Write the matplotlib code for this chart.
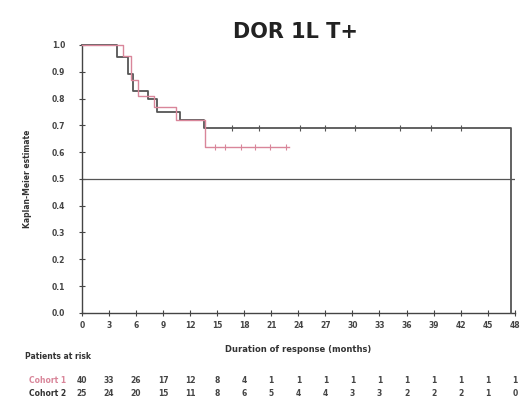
import matplotlib
matplotlib.use("Agg")
import matplotlib.pyplot as plt
from matplotlib.transforms import blended_transform_factory

# KM steps (months, survival)
dark_t = [0, 3.9, 5.1, 5.7, 7.3, 8.3, 10.9, 13.5, 47.6, 47.6]
dark_s = [1.0, 0.955, 0.89, 0.83, 0.80, 0.75, 0.72, 0.69, 0.69, 0.0]
dark_cens = [16.7, 19.6, 24.2, 27.0, 30.3, 35.3, 38.7, 42.0]

pink_t = [0, 4.6, 5.4, 6.2, 8.0, 10.4, 13.6, 23.0]
pink_s = [1.0, 0.96, 0.87, 0.81, 0.77, 0.72, 0.62, 0.62]
pink_cens = [14.8, 15.9, 17.6, 19.2, 20.9, 22.6]

xticks = list(range(0, 49, 3))
yticks = [0.0, 0.1, 0.2, 0.3, 0.4, 0.5, 0.6, 0.7, 0.8, 0.9, 1.0]

risk1 = [40, 33, 26, 17, 12, 8, 4, 1, 1, 1, 1, 1, 1, 1, 1, 1, 1]
risk2 = [25, 24, 20, 15, 11, 8, 6, 5, 4, 4, 3, 3, 2, 2, 2, 1, 0]

dark_col = "#555555"
pink_col = "#d9869a"

fig = plt.figure(figsize=(5.28, 3.98), dpi=100)
ax = fig.add_axes([0.155, 0.214, 0.82, 0.673])

ax.step(dark_t, dark_s, where="post", color=dark_col, lw=1.3, clip_on=False, zorder=3)
ax.step(pink_t, pink_s, where="post", color=pink_col, lw=1.0, clip_on=False, zorder=4)

# censor ticks
def surv_at(ts, ss, x):
    v = ss[0]
    for t, s in zip(ts, ss):
        if t <= x:
            v = s
    return v

ax.plot(dark_cens, [surv_at(dark_t[:-1], dark_s[:-1], c) for c in dark_cens],
        ls="none", marker="|", ms=4, mew=0.8, color=dark_col)
ax.plot(pink_cens, [surv_at(pink_t, pink_s, c) for c in pink_cens],
        ls="none", marker="|", ms=4, mew=0.8, color=pink_col)

ax.axhline(0.5, color="#555555", lw=0.9)

ax.set_xlim(0, 48)
ax.set_ylim(0, 1.0)
ax.set_xticks(xticks)
ax.set_yticks(yticks)
ax.set_xticklabels([str(x) for x in xticks], fontsize=5.5, color="#444444", fontweight="bold")
ax.set_yticklabels(["%.1f" % y for y in yticks], fontsize=5.5, color="#444444", fontweight="bold")
ax.tick_params(direction="inout", length=4, width=0.8, colors="#444444")
ax.tick_params(axis="x", pad=4)
ax.tick_params(axis="y", pad=10)
for sp in ["top", "right"]:
    ax.spines[sp].set_visible(False)
for sp in ["left", "bottom"]:
    ax.spines[sp].set_color("#444444")
    ax.spines[sp].set_linewidth(1.0)

ax.set_ylabel("Kaplan-Meier estimate", fontsize=5.5, fontweight="bold", color="#333333", labelpad=14)
ax.set_xlabel("Duration of response (months)", fontsize=6, fontweight="bold", color="#333333", labelpad=11)
fig.text(0.56, 0.905, "DOR 1L T+", ha="center", fontsize=15, fontweight="bold", color="#222222")

# numbers at risk
tr = blended_transform_factory(ax.transData, fig.transFigure)
fig.text(0.11, 0.098, "Patients at risk", ha="center", fontsize=5.5, fontweight="bold", color="#333333")
fig.text(0.09, 0.038, "Cohort 1", ha="center", fontsize=5.5, fontweight="bold", color=pink_col)
fig.text(0.09, 0.004, "Cohort 2", ha="center", fontsize=5.5, fontweight="bold", color="#333333")
for x, a, b in zip(xticks, risk1, risk2):
    ax.text(x, 0.038, str(a), transform=tr, ha="center", fontsize=5.5, fontweight="bold", color="#444444")
    ax.text(x, 0.004, str(b), transform=tr, ha="center", fontsize=5.5, fontweight="bold", color="#444444")

fig.savefig("out.png", dpi=100)
